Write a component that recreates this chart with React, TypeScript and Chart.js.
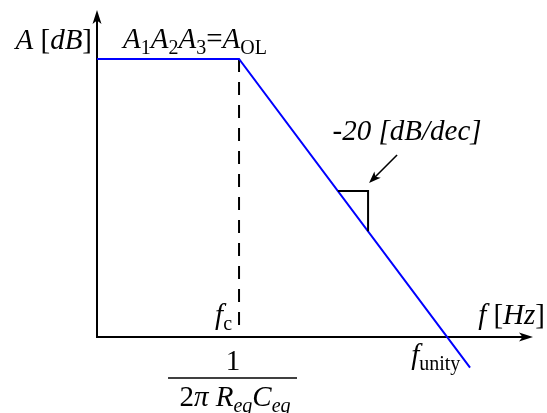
import React, { useEffect, useRef } from "react";
import { Chart, registerables } from "chart.js";

Chart.register(...registerables);

// Asymptotic Bode magnitude plot of a single-pole amplifier.
// x is log10(f) in decades, y is gain in dB.
const cornerDecade = 3; // f_c
const openLoopGainDb = 80; // A_OL
const rolloffDbPerDecade = -20;
const unityDecade = cornerDecade + openLoopGainDb / -rolloffDbPerDecade; // f_unity

const freqDecades = [0.27, 3, 7.44];
const gainDb = [80, 80, -8.8];

// slope marker (right triangle on the roll-off)
const slopeMarkDecades = [4.9, 5.48];

const X_MIN = 0.27;
const X_MAX = 8.65;
const Y_MIN = 0;
const Y_MAX = 92.95;

const SERIF = '"Liberation Serif", "Times New Roman", serif';

type Run = { t: string; italic?: boolean; sub?: boolean; size?: number };

function runFont(r: Run, base: number) {
  const size = r.size ?? (r.sub ? Math.round(base * 0.68) : base);
  return `${r.italic ? "italic " : ""}${size}px ${SERIF}`;
}

function drawRuns(
  ctx: CanvasRenderingContext2D,
  x: number,
  y: number,
  runs: Run[],
  base: number,
  align: "left" | "right" | "center" = "left"
) {
  ctx.save();
  ctx.textAlign = "left";
  ctx.textBaseline = "alphabetic";
  let total = 0;
  const widths = runs.map((r) => {
    ctx.font = runFont(r, base);
    const w = ctx.measureText(r.t).width;
    total += w;
    return w;
  });
  let cx = align === "left" ? x : align === "right" ? x - total : x - total / 2;
  runs.forEach((r, i) => {
    ctx.font = runFont(r, base);
    ctx.fillText(r.t, cx, r.sub ? y + base * 0.2 : y);
    cx += widths[i];
  });
  ctx.restore();
  return total;
}

function arrowHead(
  ctx: CanvasRenderingContext2D,
  tipX: number,
  tipY: number,
  angle: number,
  len: number,
  half: number
) {
  ctx.save();
  ctx.translate(tipX, tipY);
  ctx.rotate(angle);
  ctx.beginPath();
  ctx.moveTo(0, 0);
  ctx.lineTo(-len, -half);
  ctx.lineTo(-len * 0.75, 0);
  ctx.lineTo(-len, half);
  ctx.closePath();
  ctx.fill();
  ctx.restore();
}

const bodePlugin = {
  id: "bodeDecor",
  beforeDatasetsDraw(chart: any) {
    const ctx: CanvasRenderingContext2D = chart.ctx;
    const xs = chart.scales.x;
    const ys = chart.scales.y;
    const ox = xs.getPixelForValue(X_MIN);
    const oy = ys.getPixelForValue(Y_MIN);
    const right = xs.getPixelForValue(X_MAX);
    const top = ys.getPixelForValue(Y_MAX);
    ctx.save();
    ctx.strokeStyle = "#000";
    ctx.fillStyle = "#000";
    ctx.lineWidth = 2;
    // axes
    ctx.beginPath();
    ctx.moveTo(ox, oy);
    ctx.lineTo(ox, top + 6);
    ctx.moveTo(ox - 1, oy);
    ctx.lineTo(right - 6, oy);
    ctx.stroke();
    arrowHead(ctx, ox, top - 4, -Math.PI / 2, 14, 4.5);
    arrowHead(ctx, right, oy, 0, 14, 4.5);

    // corner frequency dashed marker
    const fx = xs.getPixelForValue(cornerDecade);
    ctx.setLineDash([13, 10]);
    ctx.beginPath();
    ctx.moveTo(fx, ys.getPixelForValue(openLoopGainDb));
    ctx.lineTo(fx, oy - 10);
    ctx.stroke();
    ctx.setLineDash([]);
    ctx.restore();
  },
  afterDatasetsDraw(chart: any) {
    const ctx: CanvasRenderingContext2D = chart.ctx;
    const xs = chart.scales.x;
    const ys = chart.scales.y;
    const gainAt = (d: number) =>
      openLoopGainDb + rolloffDbPerDecade * (d - cornerDecade);
    const ox = xs.getPixelForValue(X_MIN);
    const oy = ys.getPixelForValue(Y_MIN);
    const fx = xs.getPixelForValue(cornerDecade);
    const ux = xs.getPixelForValue(unityDecade);
    const aolY = ys.getPixelForValue(openLoopGainDb);

    ctx.save();
    ctx.strokeStyle = "#000";
    ctx.fillStyle = "#000";
    ctx.lineWidth = 2;

    // slope triangle
    const [d0, d1] = slopeMarkDecades;
    const tx0 = xs.getPixelForValue(d0);
    const tx1 = xs.getPixelForValue(d1);
    const ty0 = ys.getPixelForValue(gainAt(d0));
    const ty1 = ys.getPixelForValue(gainAt(d1));
    ctx.beginPath();
    ctx.moveTo(tx0, ty0);
    ctx.lineTo(tx1, ty0);
    ctx.lineTo(tx1, ty1);
    ctx.stroke();

    // pointer to the slope triangle
    const tipX = tx1 + 1;
    const tipY = ty0 - 8;
    const sx = tipX + 28;
    const sy = tipY - 28;
    ctx.lineWidth = 1.6;
    ctx.beginPath();
    ctx.moveTo(sx, sy);
    ctx.lineTo(tipX + 5, tipY - 5);
    ctx.stroke();
    arrowHead(ctx, tipX, tipY, (3 * Math.PI) / 4, 12, 4.5);

    const F = 29;
    // axis titles
    drawRuns(
      ctx,
      ox - 5,
      aolY - 10,
      [
        { t: "A", italic: true },
        { t: " [" },
        { t: "dB", italic: true },
        { t: "]" },
      ],
      F,
      "right"
    );
    drawRuns(
      ctx,
      ox + 26,
      aolY - 11,
      [
        { t: "A", italic: true },
        { t: "1", sub: true },
        { t: "A", italic: true },
        { t: "2", sub: true },
        { t: "A", italic: true },
        { t: "3", sub: true },
        { t: "=" },
        { t: "A", italic: true },
        { t: "OL", sub: true },
      ],
      F,
      "left"
    );
    drawRuns(
      ctx,
      sx + 10,
      sy - 15,
      [{ t: "-20 [dB/dec]", italic: true }],
      F,
      "center"
    );
    drawRuns(
      ctx,
      545,
      oy - 13,
      [
        { t: "f", italic: true },
        { t: " [" },
        { t: "Hz", italic: true },
        { t: "]" },
      ],
      F,
      "right"
    );
    drawRuns(
      ctx,
      fx - 7,
      oy - 13,
      [
        { t: "f", italic: true },
        { t: "c", sub: true },
      ],
      F,
      "right"
    );
    drawRuns(
      ctx,
      ux - 36,
      oy + 27,
      [
        { t: "f", italic: true },
        { t: "unity", sub: true },
      ],
      F,
      "left"
    );

    // corner frequency expression
    const cx = fx - 6;
    drawRuns(ctx, cx, oy + 33, [{ t: "1" }], F, "center");
    ctx.lineWidth = 1.5;
    ctx.beginPath();
    ctx.moveTo(cx - 65, oy + 41);
    ctx.lineTo(cx + 64, oy + 41);
    ctx.stroke();
    drawRuns(
      ctx,
      cx + 2,
      oy + 69,
      [
        { t: "2" },
        { t: "π", italic: true },
        { t: " R", italic: true },
        { t: "eq", italic: true, sub: true },
        { t: "C", italic: true },
        { t: "eq", italic: true, sub: true },
      ],
      F,
      "center"
    );
    ctx.restore();
  },
};

export default function App() {
  const canvasRef = useRef<HTMLCanvasElement | null>(null);

  useEffect(() => {
    const canvas = canvasRef.current;
    if (!canvas) return;
    const chart = new Chart(canvas, {
      type: "line",
      data: {
        datasets: [
          {
            label: "|A| (asymptote)",
            data: freqDecades.map((d, i) => ({ x: d, y: gainDb[i] })),
            borderColor: "#0000ff",
            borderWidth: 2,
            pointRadius: 0,
            fill: false,
            tension: 0,
            clip: false as any,
          },
        ],
      },
      options: {
        responsive: false,
        animation: false,
        events: [],
        layout: { padding: { left: 97, right: 14, top: 14, bottom: 76 } },
        plugins: {
          legend: { display: false },
          tooltip: { enabled: false },
          title: { display: false },
        },
        scales: {
          x: { type: "linear", min: X_MIN, max: X_MAX, display: false },
          y: { type: "linear", min: Y_MIN, max: Y_MAX, display: false },
        },
      },
      plugins: [bodePlugin],
    });
    return () => chart.destroy();
  }, []);

  return (
    <div
      style={{
        position: "fixed",
        left: 0,
        top: 0,
        width: 547,
        height: 413,
        background: "#fff",
      }}
    >
      <canvas ref={canvasRef} width={547} height={413} />
    </div>
  );
}
